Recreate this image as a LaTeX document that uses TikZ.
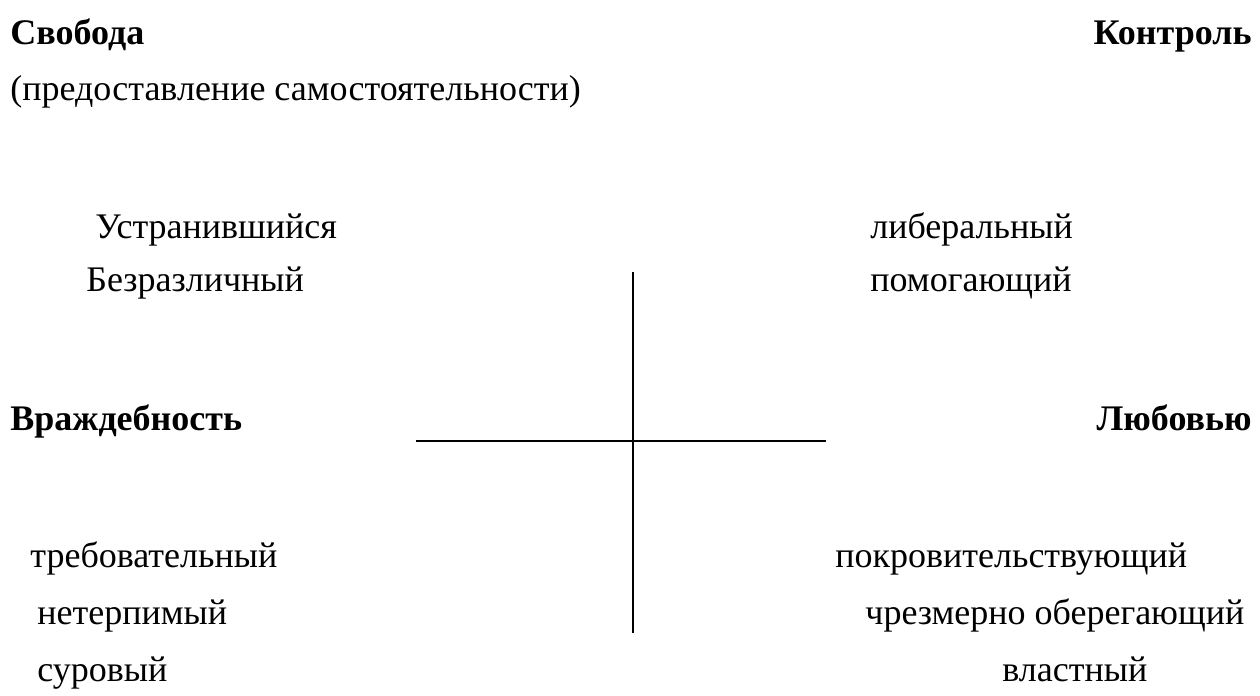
\documentclass[tikz,border=0pt]{standalone}
\usepackage{fontspec}
\setmainfont{Liberation Serif}

\begin{document}
\begin{tikzpicture}[x=0.5pt, y=-0.5pt,
    lbl/.style={inner sep=0pt, font=\fontsize{18}{21}\selectfont},
    head/.style={inner sep=0pt, font=\fontsize{18}{21}\selectfont\bfseries},
    axis/.style={line width=1pt}]
    \useasboundingbox (0,0) rectangle (1260,696);

    % headings
    \node[head, anchor=base west] (svoboda) at (10, 45) {Свобода};
    \node[head, anchor=base east] (kontrol) at (1252, 45) {Контроль};
    \node[lbl, anchor=base west] (predost) at (10, 100) {(предоставление самостоятельности)};
    \node[head, anchor=base west] (vrazhd) at (10, 430) {Враждебность};
    \node[head, anchor=base east] (lubov) at (1252, 430) {Любовью};

    % upper quadrants
    \node[lbl, anchor=base west] (ustran) at (95, 238) {Устранившийся};
    \node[lbl, anchor=base west] (bezraz) at (86, 291) {Безразличный};
    \node[lbl, anchor=base west] (liber) at (870, 238) {либеральный};
    \node[lbl, anchor=base west] (pomog) at (870, 291) {помогающий};

    % lower quadrants
    \node[lbl, anchor=base west] (treb) at (30, 567) {требовательный};
    \node[lbl, anchor=base west] (neterp) at (37, 624) {нетерпимый};
    \node[lbl, anchor=base west] (surov) at (37, 681) {суровый};
    \node[lbl, anchor=base west] (pokrov) at (835, 567) {покровительствующий};
    \node[lbl, anchor=base west] (chrezm) at (865, 624) {чрезмерно оберегающий};
    \node[lbl, anchor=base west] (vlast) at (1002, 681) {властный};

    % axes
    \coordinate (vtop) at (633, 272);
    \coordinate (vbot) at (633, 633);
    \coordinate (hleft) at (416, 441);
    \coordinate (hright) at (826, 441);
    \draw[axis] (vtop) -- (vbot);
    \draw[axis] (hleft) -- (hright);
\end{tikzpicture}
\end{document}
